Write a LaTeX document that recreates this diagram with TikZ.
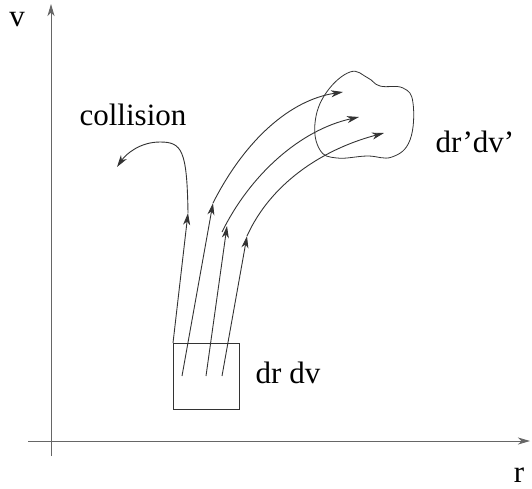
\documentclass[tikz,border=0pt]{standalone}
\usepackage{fontspec}
\setmainfont{Liberation Serif}
\usetikzlibrary{arrows.meta}

\tikzset{
  flow/.style={draw=black!80, line width=0.9pt, -{Stealth[length=12pt,width=7pt,inset=3.5pt]}},
  lbl/.style={anchor=base, inner sep=0pt, font=\fontsize{31}{36}\selectfont}
}

\begin{document}
\begin{tikzpicture}[x=1pt, y=-1pt]
  \useasboundingbox (0,0) rectangle (532,488);
  % axes
  \coordinate (o1) at (28,441);  \coordinate (rtip) at (530,441);
  \coordinate (o2) at (51,456);  \coordinate (vtip) at (51,4);
  \draw[flow, draw=black!60] (o1) -- (rtip);
  \draw[flow, draw=black!60] (o2) -- (vtip);
  \node[lbl] (v) at (17,26) {v};
  \node[lbl] (r) at (519,482) {r};

  % phase space cell
  \draw[black!80, line width=0.8pt] (173,343) rectangle (239,409);
  \node[lbl] (drdv) at (288,383) {dr dv};

  % starting points and first arrow tips
  \coordinate (s1) at (173,343); \coordinate (t1) at (188,213);
  \coordinate (s2) at (182,376); \coordinate (t2) at (213,203);
  \coordinate (s3) at (206,376); \coordinate (t3) at (227,226);
  \coordinate (s4) at (222,376); \coordinate (t4) at (247,236);
  \foreach \i in {1,...,4}
    \draw[flow] (s\i) -- (t\i);

  % collision
  \coordinate (c) at (117,167);
  \draw[flow] (t1) .. controls (187,150) and (182,142) .. (160,142)
                   .. controls (140,142) and (126,154) .. (c);
  \node[lbl] (coll) at (133,125) {collision};

  % end points
  \coordinate (e2) at (343,92);
  \coordinate (e3) at (359,117);
  \coordinate (e4) at (384,133);
  \draw[flow] (t2) .. controls (245,140) and (290,100) .. (e2);
  \draw[flow] (222,232) .. controls (250,175) and (300,130) .. (e3);
  \draw[flow] (t4) .. controls (270,185) and (320,150) .. (e4);

  % target region
  \draw[black!80, line width=0.8pt] plot[smooth cycle, tension=0.7] coordinates {
    (350,72) (326,93) (315,123) (320,150) (337,158) (367,156) (392,157)
    (410,140) (413,103) (403,88) (380,86) (368,78)};
  \node[lbl] (drdv2) at (475,152) {dr'dv'};
\end{tikzpicture}
\end{document}
